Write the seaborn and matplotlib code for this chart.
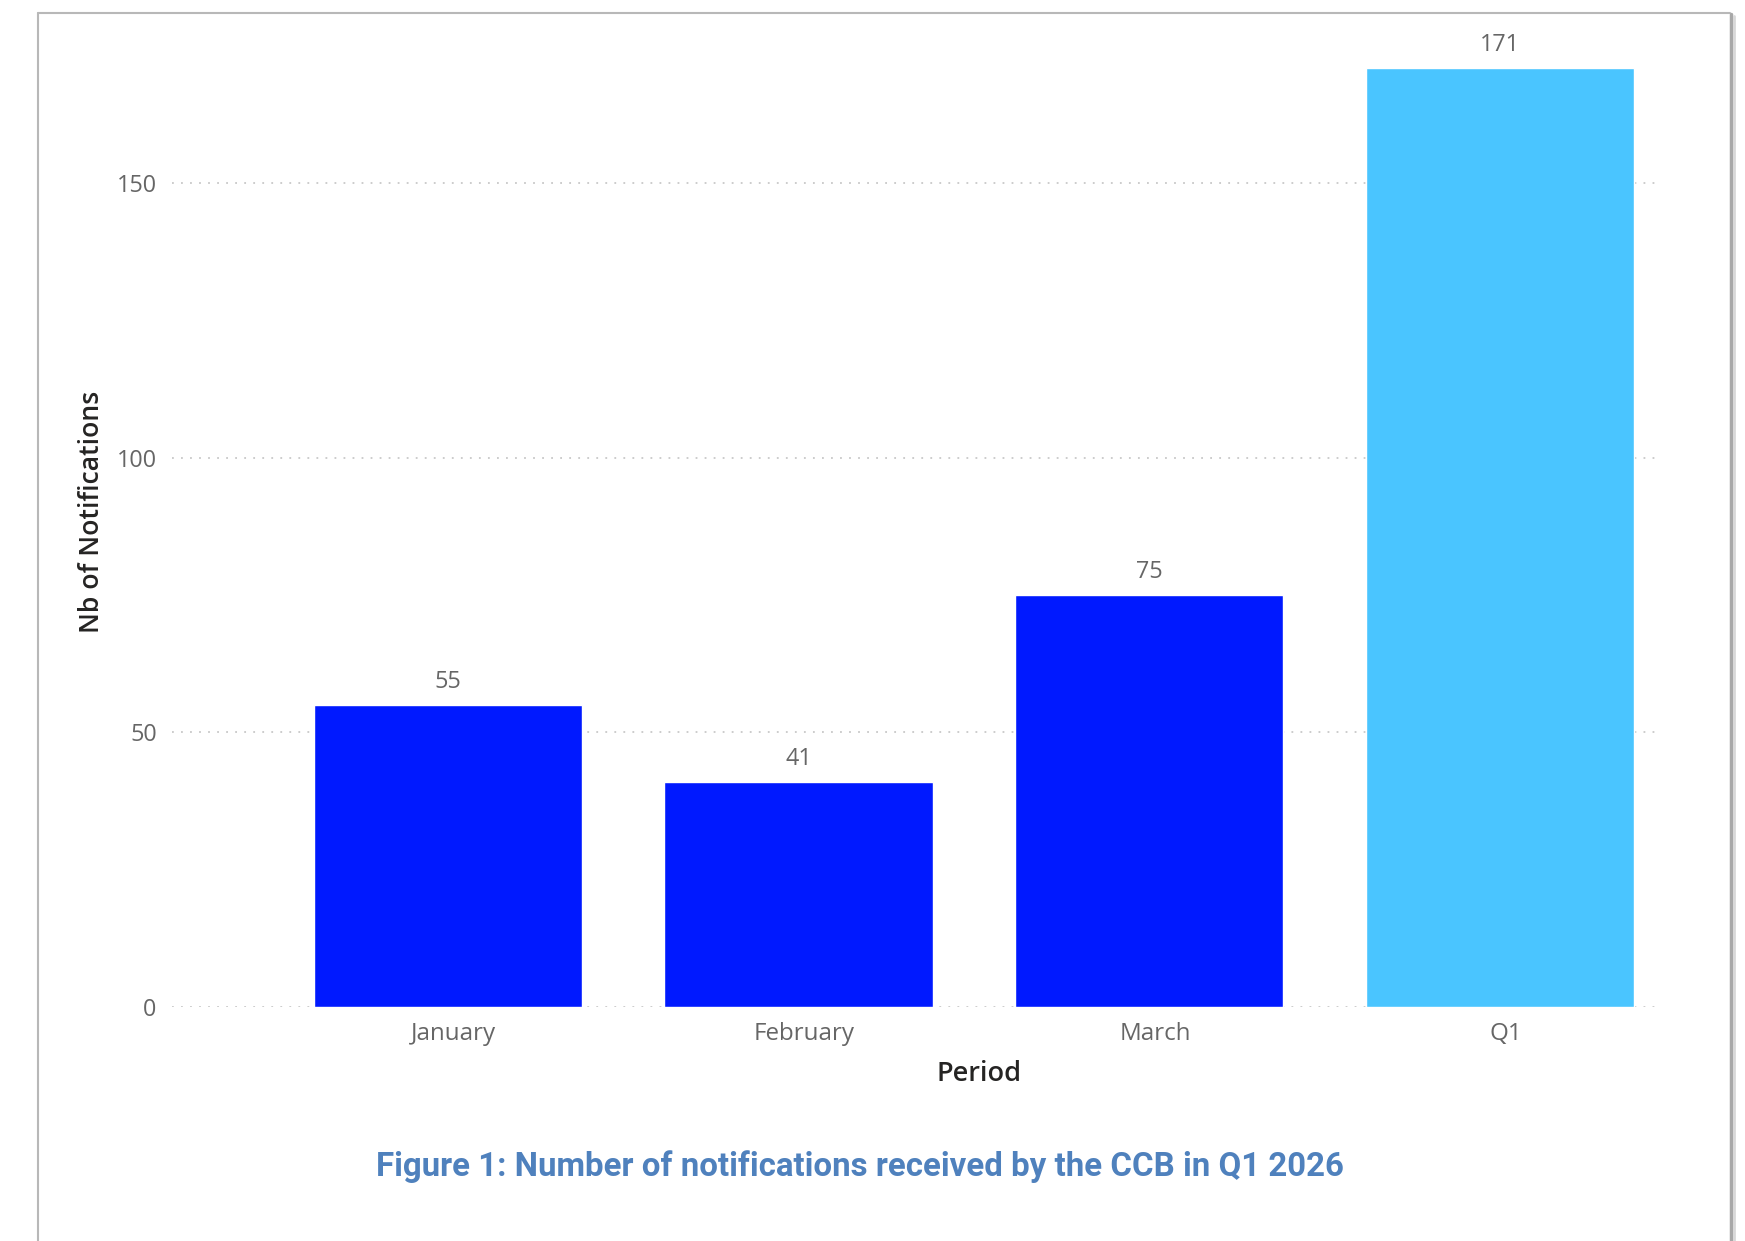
import matplotlib
matplotlib.use("Agg")
import matplotlib.pyplot as plt
import matplotlib.transforms as mtransforms
import seaborn as sns
import pandas as pd
from matplotlib.lines import Line2D

# ---- data ----
periods = ["January", "February", "March", "Q1"]
notifications = [55, 41, 75, 171]
bar_colors = ["#0019FF", "#0019FF", "#0019FF", "#4AC5FF"]
yticks = [0, 50, 100, 150]

df = pd.DataFrame({"Period": periods, "Notifications": notifications})

sns.set_theme(style="white")
plt.rcParams["font.family"] = ["Open Sans", "DejaVu Sans"]

W, H = 1745, 1241
fig = plt.figure(figsize=(W / 100, H / 100), dpi=100)
fig.patch.set_facecolor("white")

# axes placement in pixel coords
x0, x1 = 172, 1657
y_top, y_bot = 46, 1007
ax = fig.add_axes([x0 / W, 1 - y_bot / H, (x1 - x0) / W, (y_bot - y_top) / H])

sns.barplot(data=df, x="Period", y="Notifications", hue="Period",
            palette=dict(zip(periods, bar_colors)), width=0.765,
            legend=False, ax=ax, saturation=1)

ax.set_xlim(-0.787, 3.448)
ax.set_ylim(0, 175)
ax.set_yticks(yticks)
ax.set_yticklabels([str(v) for v in yticks])

for s in ax.spines.values():
    s.set_visible(False)

ax.set_axisbelow(True)
ax.yaxis.grid(True, linestyle=(0, (1, 4)), color="#c8c8c8", linewidth=1.3)
ax.xaxis.grid(False)

ax.tick_params(axis="y", length=0, pad=11, labelsize=16.8, labelcolor="#666666")
ax.tick_params(axis="x", length=0, pad=11, labelsize=17.4, labelcolor="#666666")

# Power BI draws category labels slightly right of bar centre
offset = mtransforms.ScaledTranslation(6 / 100, 0, fig.dpi_scale_trans)
for lab in ax.get_xticklabels():
    lab.set_transform(lab.get_transform() + offset)

for c in ax.containers:
    ax.bar_label(c, padding=8, fontsize=16.8, color="#666666")

ax.set_xlabel("Period", fontsize=19.5, color="#252423", fontweight="semibold")
ax.set_ylabel("Nb of Notifications", fontsize=19.2, color="#252423", fontweight="semibold")
ax.xaxis.set_label_coords((979 - x0) / (x1 - x0), -0.0555)
ax.yaxis.set_label_coords((106 - x0) / (x1 - x0), 0.515)

# caption
fig.text(860 / W, 1 - 1167 / H, "Figure 1: Number of notifications received by the CCB in Q1 2026",
         ha="center", va="center", fontsize=23.8, color="#4F81BD", fontweight="bold",
         family=["Roboto", "DejaVu Sans"])

# frame border with right shadow
fig.add_artist(Line2D([38 / W, 38 / W], [0, 1 - 13 / H], transform=fig.transFigure,
                      color="#b8b8b8", linewidth=1.5))
fig.add_artist(Line2D([38 / W, 1730 / W], [1 - 13 / H, 1 - 13 / H], transform=fig.transFigure,
                      color="#b8b8b8", linewidth=1.5))
fig.add_artist(Line2D([1731 / W, 1731 / W], [0, 1 - 14 / H], transform=fig.transFigure,
                      color="#a8a8a8", linewidth=2.5))
fig.add_artist(Line2D([1734 / W, 1734 / W], [0, 1 - 16 / H], transform=fig.transFigure,
                      color="#d8d8d8", linewidth=2))

fig.savefig("out.png", dpi=100)
